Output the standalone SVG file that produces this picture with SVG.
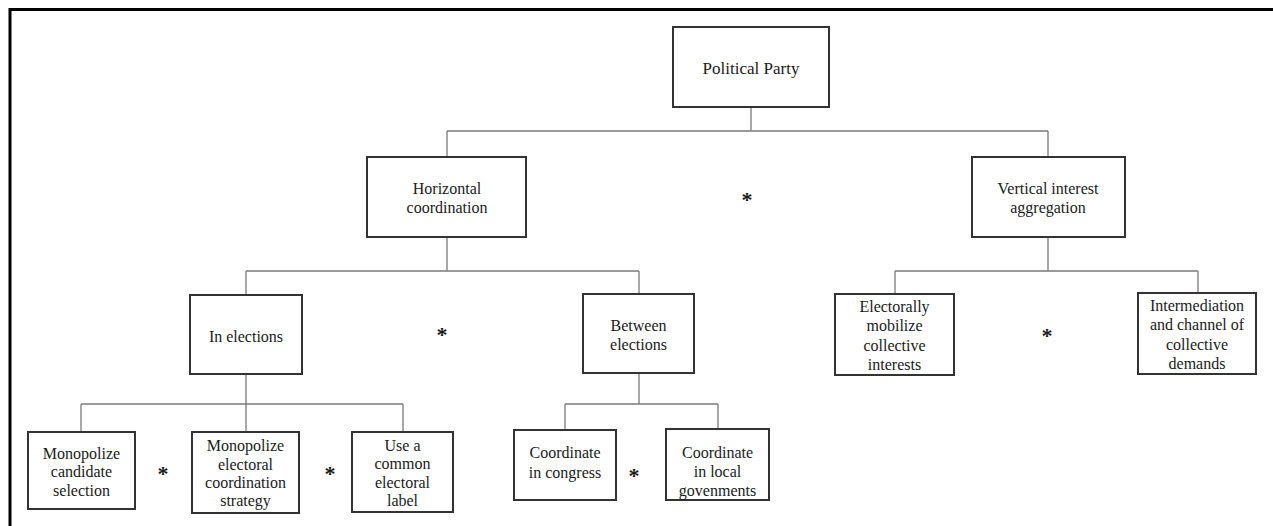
<svg xmlns="http://www.w3.org/2000/svg" width="1273" height="526" viewBox="0 0 1273 526">
<style>
.frame{fill:none;stroke:#000;stroke-width:3}
.box{fill:#fff;stroke:#333;stroke-width:2}
.conn{fill:none;stroke:#7a7a7a;stroke-width:1.3}
text{font-family:"Liberation Serif","Times New Roman",serif;font-size:16px;fill:#1a1a1a;text-anchor:middle}
.title{font-size:17px}
.star{font-size:22px;font-weight:bold}
</style>
<rect width="1273" height="526" fill="#fff"/>
<path class="frame" d="M10,526 V9.5 H1273"/>
<g id="connectors">
<path class="conn" d="M751,107 V131 M447,131 H1048 M447,131 V157 M1048,131 V157"/>
<path class="conn" d="M447,237 V271 M246,271 H639 M246,271 V295 M639,271 V294"/>
<path class="conn" d="M1048,237 V271 M895,271 H1198 M895,271 V294 M1198,271 V293"/>
<path class="conn" d="M246,374 V404 M81,404 H403 M81,404 V432 M246,404 V432 M403,404 V432"/>
<path class="conn" d="M639,373 V404 M565,404 H718 M565,404 V430 M718,404 V429"/>
</g>
<g id="political-party">
<rect class="box" x="673" y="27" width="156" height="80"/>
<text class="title" x="751" y="73.5">Political Party</text>
</g>
<g id="horizontal-coordination">
<rect class="box" x="367" y="157" width="159" height="80"/>
<text x="447" y="193.5">Horizontal</text>
<text x="447" y="212.5">coordination</text>
</g>
<g id="vertical-interest-aggregation">
<rect class="box" x="972" y="157" width="153" height="80"/>
<text x="1048" y="193.5">Vertical interest</text>
<text x="1048" y="212.5">aggregation</text>
</g>
<g id="in-elections">
<rect class="box" x="190" y="295" width="112" height="79"/>
<text x="246" y="341.5">In elections</text>
</g>
<g id="between-elections">
<rect class="box" x="583" y="294" width="111" height="79"/>
<text x="638.5" y="331">Between</text>
<text x="638.5" y="350">elections</text>
</g>
<g id="electorally-mobilize">
<rect class="box" x="835" y="294" width="119" height="81"/>
<text x="894.5" y="312">Electorally</text>
<text x="894.5" y="331">mobilize</text>
<text x="894.5" y="350.5">collective</text>
<text x="894.5" y="369.5">interests</text>
</g>
<g id="intermediation">
<rect class="box" x="1138" y="293" width="118" height="81"/>
<text x="1197" y="311">Intermediation</text>
<text x="1197" y="330">and channel of</text>
<text x="1197" y="350">collective</text>
<text x="1197" y="369">demands</text>
</g>
<g id="monopolize-candidate">
<rect class="box" x="28" y="432" width="107" height="77"/>
<text x="81.5" y="458.5">Monopolize</text>
<text x="81.5" y="476.5">candidate</text>
<text x="81.5" y="495.5">selection</text>
</g>
<g id="monopolize-electoral">
<rect class="box" x="192" y="432" width="107" height="81"/>
<text x="245.5" y="451">Monopolize</text>
<text x="245.5" y="469.5">electoral</text>
<text x="245.5" y="488">coordination</text>
<text x="245.5" y="506">strategy</text>
</g>
<g id="common-label">
<rect class="box" x="352" y="432" width="101" height="80"/>
<text x="402.5" y="450.5">Use a</text>
<text x="402.5" y="469">common</text>
<text x="402.5" y="487.5">electoral</text>
<text x="402.5" y="505.5">label</text>
</g>
<g id="coordinate-congress">
<rect class="box" x="514" y="430" width="102" height="70"/>
<text x="565" y="458">Coordinate</text>
<text x="565" y="477.5">in congress</text>
</g>
<g id="coordinate-local">
<rect class="box" x="666" y="429" width="103" height="71"/>
<text x="717.5" y="458">Coordinate</text>
<text x="717.5" y="476.5">in local</text>
<text x="717.5" y="495.5">govenments</text>
</g>
<g id="asterisks">
<text class="star" x="747" y="207">*</text>
<text class="star" x="442" y="342">*</text>
<text class="star" x="1047" y="343">*</text>
<text class="star" x="163" y="481">*</text>
<text class="star" x="330" y="481">*</text>
<text class="star" x="634" y="483">*</text>
</g>
</svg>
